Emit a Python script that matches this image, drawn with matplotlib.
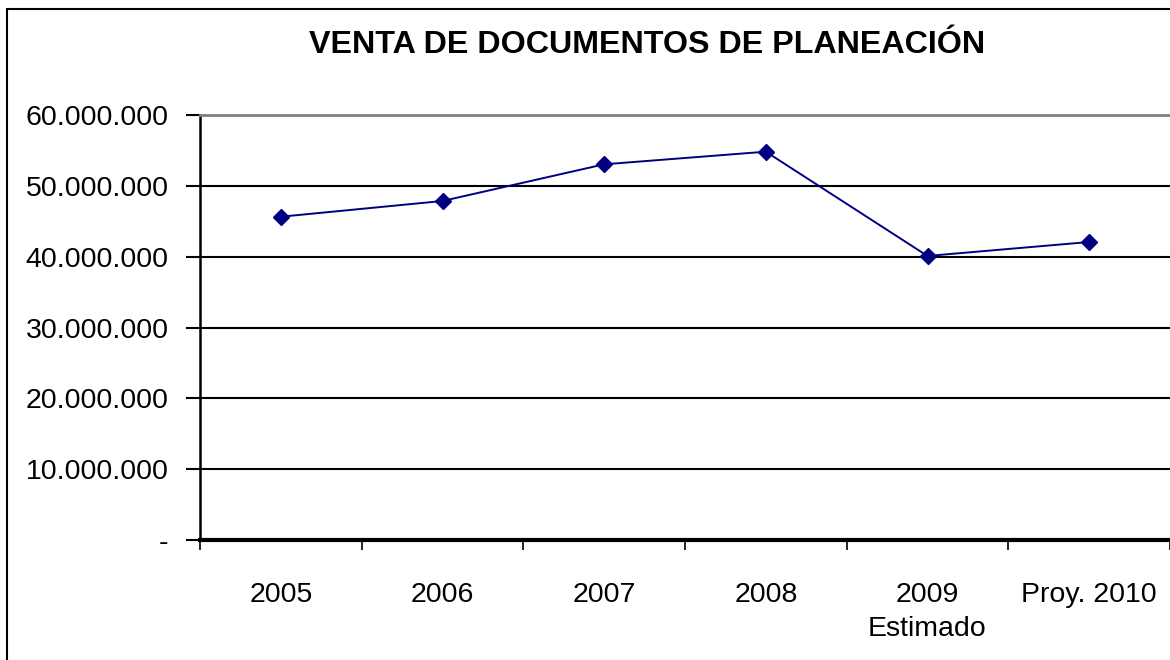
import matplotlib.pyplot as plt
from matplotlib.patches import Rectangle
from matplotlib.ticker import FuncFormatter

plt.rcParams['font.family'] = ['Liberation Sans', 'DejaVu Sans']

# Datos
categorias = ["2005", "2006", "2007", "2008", "2009\nEstimado", "Proy. 2010"]
ventas = [45640000, 47860000, 53040000, 54820000, 40100000, 42070000]
y_ticks = [0, 10000000, 20000000, 30000000, 40000000, 50000000, 60000000]


def miles(v, pos):
    if v == 0:
        return "-"
    return f"{int(v):,}".replace(",", ".")


fig = plt.figure(figsize=(11.7, 6.6), dpi=100)
ax = fig.add_axes([200 / 1170, 120 / 660, 970 / 1170, 425 / 660])

# borde del area del grafico (se sale por la derecha y abajo)
fig.patches.append(Rectangle((7 / 1170, -0.05), 1.1, 651 / 660 + 0.05,
                             transform=fig.transFigure, fill=False,
                             edgecolor="black", linewidth=1.5, clip_on=False))

x = list(range(len(categorias)))
ax.plot(x, ventas, color="#000080", linewidth=1.4, marker="D",
        markersize=8, markerfacecolor="#000080", markeredgecolor="#000080",
        zorder=3)

ax.set_xlim(-0.5, len(categorias) - 0.5)
ax.set_ylim(0, 60000000)
ax.set_yticks(y_ticks)
ax.yaxis.set_major_formatter(FuncFormatter(miles))
for t in y_ticks[1:-1]:
    ax.axhline(t, color="black", linewidth=1.5, zorder=1)

ax.set_xticks(x)
ax.set_xticklabels(categorias, fontsize=20.5, linespacing=1.4)
ax.set_xticks([i - 0.5 for i in range(len(categorias) + 1)], minor=True)
ax.tick_params(axis="x", which="major", length=0, pad=30.5)
ax.tick_params(axis="x", which="minor", length=7, width=1.2, color="black")
ax.tick_params(axis="y", labelsize=20.5, length=10, width=1.5, pad=12.5)

ax.spines["right"].set_visible(False)
ax.spines["top"].set_color("#808080")
ax.spines["top"].set_linewidth(2)
ax.spines["left"].set_linewidth(1.8)
ax.spines["bottom"].set_linewidth(3)

fig.text(647 / 1170, 1 - 45 / 660, "VENTA DE DOCUMENTOS DE PLANEACIÓN",
         ha="center", va="center", fontsize=23.2, fontweight="bold")

fig.savefig("out.png", dpi=100)
